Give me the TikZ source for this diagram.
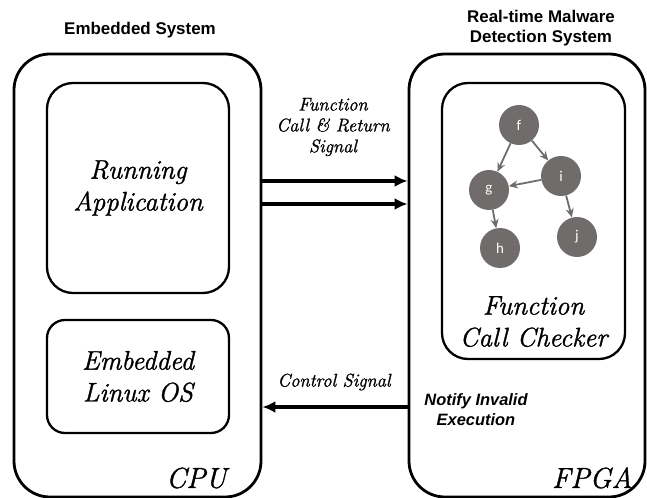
\documentclass[tikz,border=0pt]{standalone}
\usepackage{fontspec}
\setmainfont{Latin Modern Roman}[ItalicFeatures={FakeBold=1.2}]
\newfontfamily\headfont{Liberation Sans}
\newfontfamily\dotfont{Carlito}
\usetikzlibrary{positioning,arrows.meta}
\definecolor{dotgray}{RGB}{112,108,107}

\begin{document}
\begin{tikzpicture}[x=1bp,y=-1bp,
  outerbox/.style={draw, line width=2.8bp, rounded corners=36bp, inner sep=0pt},
  innerbox/.style={draw, line width=2.3bp, rounded corners=26bp, inner sep=0pt,
                   align=center, font=\fontsize{27}{32}\selectfont\itshape},
  head/.style  ={font=\headfont\bfseries\fontsize{17}{20}\selectfont, align=center},
  lbl/.style   ={font=\fontsize{18.5}{21}\selectfont\itshape, align=center},
  tag/.style   ={font=\fontsize{29}{32}\selectfont\itshape},
  dot/.style   ={circle, fill=dotgray, minimum size=40bp, inner sep=0pt,
                 text=white, font=\dotfont\fontsize{15}{17}\selectfont},
  garr/.style  ={-{Stealth[length=9bp,width=8bp]}, dotgray, line width=1.8bp},
  arr/.style   ={-{Latex[length=13bp,width=12bp]}, line width=3.2bp}]

\useasboundingbox (0,0) rectangle (647,498);

% the two systems
\node[outerbox, minimum width=247bp, minimum height=443bp] (cpu)  at (137.5,275.5) {};
\node[outerbox, minimum width=236bp, minimum height=443bp] (fpga) at (527,275.5) {};
\node[head] (cputitle)  at (140,30) {Embedded System};
\node[head] (fpgatitle) at (541,28) {Real-time Malware\\Detection System};

% CPU side
\node[innerbox, minimum width=182bp, minimum height=210bp] (app)   at (138,188) {Running\\Application};
\node[innerbox, minimum width=182bp, minimum height=113bp, rounded corners=18bp] (linux) at (138,376.5) {Embedded\\Linux OS};
\node[tag, anchor=south east] (cputag) at (230,492) {CPU};

% FPGA side
\node[innerbox, minimum width=183bp, minimum height=276bp] (checker) at (533.5,221) {};
\node[innerbox, draw=none, anchor=south] (checktxt) at (checker.south) [yshift=12bp] {Function\\Call Checker};
\node[tag, anchor=south east] (fpgatag) at (636,492) {FPGA};

% call graph
\node[dot] (f) at (519,125) {f};
\node[dot] (i) at (561,176) {i};
\node[dot] (g) at (489,190) {g};
\node[dot] (j) at (577,237) {j};
\node[dot] (h) at (500,248) {h};
\draw[garr] (f) -- (g);
\draw[garr] (f) -- (i);
\draw[garr] (i) -- (g);
\draw[garr] (i) -- (j);
\draw[garr] (g) -- (h);

% signals
\coordinate (c1) at (cpu.east |- 0,181);
\coordinate (c2) at (cpu.east |- 0,204);
\coordinate (c3) at (cpu.east |- 0,407);
\draw[arr] (c1) -- (c1 -| fpga.west);
\draw[arr] (c2) -- (c2 -| fpga.west);
\draw[arr] (c3 -| fpga.west) -- (c3);
\node[lbl] (calllbl) at (333,127) {Function\\Call \& Return\\Signal};
\node[lbl] (ctrllbl) at (334,382) {Control Signal};
\node[head, font=\headfont\bfseries\itshape\fontsize{16.5}{20}\selectfont] (notify) at (476,410) {Notify Invalid\\Execution};
\end{tikzpicture}
\end{document}
